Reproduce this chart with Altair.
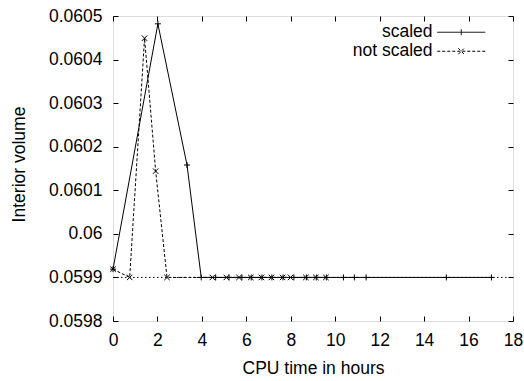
import altair as alt
import pandas as pd

# ---- data ----
series_names = ["scaled", "not scaled"]

scaled_x = [0.0, 2.02, 3.33, 3.97, 4.62, 5.22, 5.80, 6.22, 6.70, 7.15, 7.65,
            8.14, 8.70, 9.15, 9.60, 10.37, 10.86, 11.39, 15.0, 17.03]
scaled_y = [0.059919, 0.060482, 0.060158, 0.0599, 0.0599, 0.0599, 0.0599,
            0.0599, 0.0599, 0.0599, 0.0599, 0.0599, 0.0599, 0.0599, 0.0599,
            0.0599, 0.0599, 0.0599, 0.0599, 0.0599]

not_scaled_x = [0.0, 0.75, 1.42, 1.92, 2.43, 4.47, 5.10, 5.67, 6.20, 6.68,
                7.13, 7.63, 7.99, 8.68, 9.13, 9.58]
not_scaled_y = [0.059919, 0.0599, 0.060449, 0.060144, 0.0599, 0.0599, 0.0599,
                0.0599, 0.0599, 0.0599, 0.0599, 0.0599, 0.0599, 0.0599,
                0.0599, 0.0599]

ref_x = [0.0, 18.0]
ref_y = [0.0599, 0.0599]

x_ticks = [0, 2, 4, 6, 8, 10, 12, 14, 16, 18]
y_ticks = [0.0598, 0.0599, 0.06, 0.0601, 0.0602, 0.0603, 0.0604, 0.0605]

x_title = "CPU time in hours"
y_title = "Interior volume"

# ---- styling ----
FONT = "Liberation Sans"
FS = 17.5
PLUS = "M-1,0L1,0M0,-1L0,1"
CROSS = "M-1,-1L1,1M-1,1L1,-1"
PLUS_LEG = "M-3.2,0L3.2,0M0,-0.4L0,0.4"
CROSS_LEG = "M-3.2,0L3.2,0M-0.4,-0.4L0.4,0.4M-0.4,0.4L0.4,-0.4"

df_s = pd.DataFrame({"t": scaled_x, "v": scaled_y})
df_n = pd.DataFrame({"t": not_scaled_x, "v": not_scaled_y})
df_r = pd.DataFrame({"t": ref_x, "v": ref_y})
df_leg = pd.DataFrame({"series": series_names})

xscale = alt.Scale(domain=[0, 18], nice=False, zero=False)
yscale = alt.Scale(domain=[0.0598, 0.0605], nice=False, zero=False)

common_axis = dict(tickSize=5, offset=-5, domain=False, grid=False,
                   labelFlush=False, labelOverlap=False,
                   tickColor="black", labelColor="black", titleColor="black",
                   labelFont=FONT, titleFont=FONT, labelFontSize=FS,
                   titleFontSize=FS, titleFontWeight="normal")

x_bottom = alt.Axis(orient="bottom", values=x_ticks, title=x_title,
                    labelPadding=10.5, titleY=57, titleBaseline="alphabetic",
                    **common_axis)
x_top = alt.Axis(orient="top", values=x_ticks, title=None, labels=False,
                 **common_axis)
y_left = alt.Axis(orient="left", values=y_ticks, format=".4~f", title=y_title,
                  labelPadding=11, titleX=-94, titleY=148,
                  titleBaseline="alphabetic", titleAngle=270, **common_axis)
y_right = alt.Axis(orient="right", values=y_ticks, title=None, labels=False,
                   **common_axis)

ref = alt.Chart(df_r).mark_line(color="black", strokeWidth=1,
                                strokeDash=[1.5, 2.5]).encode(
    x=alt.X("t:Q", scale=xscale, axis=None),
    y=alt.Y("v:Q", scale=yscale, axis=None),
)

s_line = alt.Chart(df_s).mark_line(color="black", strokeWidth=1).encode(
    x=alt.X("t:Q", scale=xscale, axis=x_bottom),
    y=alt.Y("v:Q", scale=yscale, axis=y_left),
)
s_pts = alt.Chart(df_s).mark_point(shape=PLUS, size=36, filled=False,
                                   color="black", strokeWidth=1, opacity=1).encode(
    x=alt.X("t:Q", scale=xscale, axis=None),
    y=alt.Y("v:Q", scale=yscale, axis=None),
)

n_line = alt.Chart(df_n).mark_line(color="black", strokeWidth=1,
                                   strokeDash=[3, 2]).encode(
    x=alt.X("t:Q", scale=xscale, axis=x_top),
    y=alt.Y("v:Q", scale=yscale, axis=y_right),
)
n_pts = alt.Chart(df_n).mark_point(shape=CROSS, size=30, filled=False,
                                   color="black", strokeWidth=1, opacity=1).encode(
    x=alt.X("t:Q", scale=xscale, axis=None),
    y=alt.Y("v:Q", scale=yscale, axis=None),
)

legend = alt.Legend(title=None, orient="none", legendX=339.5, legendY=7.5,
                    direction="vertical", symbolSize=225, symbolStrokeWidth=1,
                    symbolStrokeColor="black", labelAlign="right",
                    labelOffset={"expr": "-37.5"}, symbolOffset=0,
                    labelFont=FONT, labelFontSize=FS, labelColor="black",
                    rowPadding=0, padding=0)

leg = alt.Chart(df_leg).transform_filter("false").mark_point(
    filled=False, color="black", strokeWidth=1, opacity=1).encode(
    shape=alt.Shape("series:N", scale=alt.Scale(domain=series_names,
                                                range=[PLUS_LEG, CROSS_LEG]),
                    legend=legend),
    strokeDash=alt.StrokeDash("series:N",
                              scale=alt.Scale(domain=series_names,
                                              range=[[1, 0], [3, 2]]),
                              legend=legend),
)

chart = alt.layer(ref, s_line, s_pts, n_line, n_pts, leg).resolve_axis(
    x="independent", y="independent"
).properties(
    width=400, height=305,
    autosize=alt.AutoSizeParams(type="none"),
    padding={"left": 113, "top": 16, "right": 11, "bottom": 60},
).configure_view(stroke="black", strokeWidth=1).configure(
    font=FONT, background="white")

chart.save("out.html", embed_options={"renderer": "svg", "actions": False})
